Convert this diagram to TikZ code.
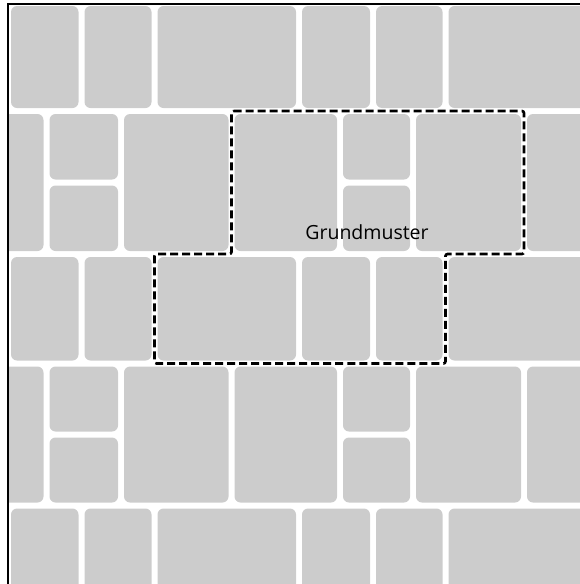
\documentclass[tikz,border=0pt]{standalone}
\usepackage{fontspec}
\setmainfont{Open Sans}
\definecolor{tilegray}{HTML}{CCCCCC}
\begin{document}
\begin{tikzpicture}[x=1pt,y=-1pt,
  tile/.style={fill=tilegray, rounded corners=6pt},
  outline/.style={draw=black, line width=2.6pt, dash pattern=on 8pt off 4pt, rounded corners=2pt},
  frameline/.style={draw=black, line width=2.2pt},
  labeltext/.style={font=\fontsize{19.5}{22}\selectfont, text=black, inner sep=0pt, anchor=base}]
\useasboundingbox (0,0) rectangle (580,584);
\begin{scope}
  \clip (8,4) rectangle (580,584);
  % wide rows
  \foreach \ya/\yb in {3/111, 254/363.5, 505.5/614} {
    \foreach \xa/\xb in {8/81.5, 81.5/154.5, 154.5/299, 299/373, 373/445.5, 445.5/591} {
      \fill[tile] (\xa+3,\ya+3) rectangle (\xb-3,\yb-3);
    }
  }
  % tall rows
  \foreach \ya/\ym/\yb in {111/182.5/254, 363.5/434.5/505.5} {
    \foreach \xa/\xb in {-63.5/46.5, 121/231.5, 231.5/340, 413/524, 524/634} {
      \fill[tile] (\xa+3,\ya+3) rectangle (\xb-3,\yb-3);
    }
    \foreach \xa/\xb in {46.5/121, 340/413} {
      \fill[tile] (\xa+3,\ya+3) rectangle (\xb-3,\ym-3);
      \fill[tile] (\xa+3,\ym+3) rectangle (\xb-3,\yb-3);
    }
  }
\end{scope}
% frame (left and top)
\draw[frameline] (8,584) -- (8,4) -- (580,4);
% basic pattern outline
\draw[outline] (231.5,111) -- (524,111) -- (524,254) -- (445.5,254) -- (445.5,363.5)
  -- (154.5,363.5) -- (154.5,254) -- (231.5,254) -- cycle;
\node[labeltext] (grund) at (367,239) {Grundmuster};
\end{tikzpicture}
\end{document}
